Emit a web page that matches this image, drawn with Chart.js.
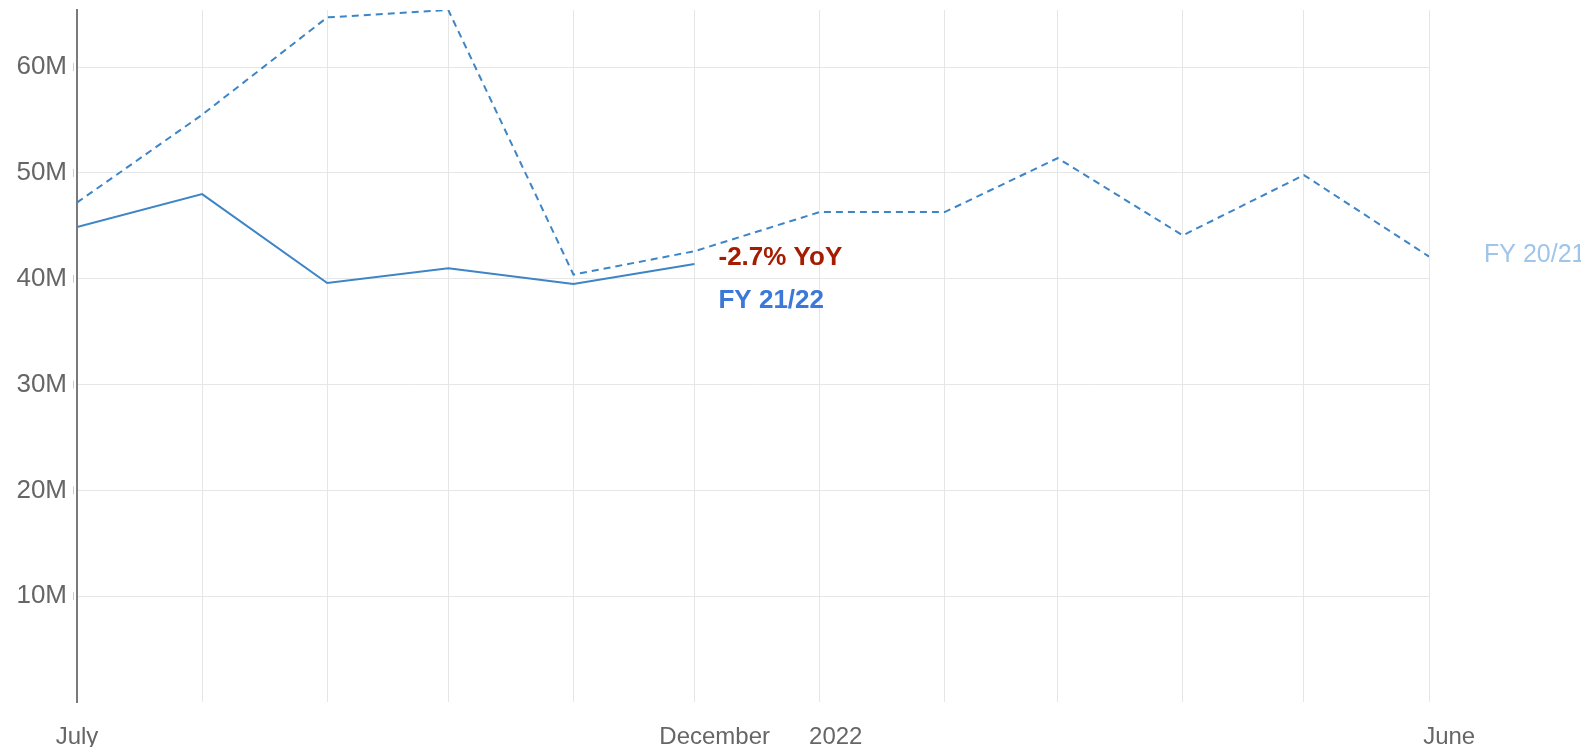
<!DOCTYPE html>
<html>
<head>
<meta charset="utf-8">
<style>
  html, body { margin: 0; padding: 0; background: #fff; }
  canvas { display: block; }
</style>
<script src="https://cdn.jsdelivr.net/npm/chart.js@4"></script>
</head>
<body>
<canvas id="chart" width="1581" height="747"></canvas>
<script>
// month starts of the fiscal year (July to June)
const months = ['2021-07-01', '2021-08-01', '2021-09-01', '2021-10-01', '2021-11-01', '2021-12-01',
                '2022-01-01', '2022-02-01', '2022-03-01', '2022-04-01', '2022-05-01', '2022-06-01'];

// values in millions
const fy2122 = [44.9, 48.0, 39.6, 41.0, 39.5, 41.4];
const fy2021 = [47.2, 55.5, 64.7, 65.4, 40.4, 42.6, 46.3, 46.3, 51.4, 44.1, 49.8, 42.1];

const yTicks = [10, 20, 30, 40, 50, 60];
const xLabels = [['2021-07-01', 'July'], ['2021-12-06', 'December'], ['2022-01-05', '2022'], ['2022-06-06', 'June']];

const yoyText = '-2.7% YoY';

const FONT = "Arial, 'Liberation Sans', sans-serif";
const lineColor = '#3d85c6';

function dayOf(d) {
    return (Date.parse(d) - Date.parse(months[0])) / 86400000;
}
const lastDay = dayOf(months[months.length - 1]);

// text next to the line ends
const endLabels = {
    id: 'endLabels',
    afterDatasetsDraw(chart) {
        const ctx = chart.ctx;
        const cur = chart.getDatasetMeta(0).data;
        const prev = chart.getDatasetMeta(1).data;
        const p = cur[cur.length - 1];
        const q = prev[prev.length - 1];
        ctx.save();
        ctx.textAlign = 'left';
        ctx.textBaseline = 'alphabetic';
        ctx.font = 'bold 26px ' + FONT;
        ctx.fillStyle = '#a61c00';
        ctx.fillText(yoyText, p.x + 24, p.y + 1);
        ctx.fillStyle = '#3c78d8';
        ctx.fillText('FY 21/22', p.x + 24, p.y + 44);
        ctx.font = '25px ' + FONT;
        ctx.fillStyle = '#9fc5e8';
        ctx.fillText('FY 20/21', q.x + 55, q.y + 5);
        ctx.restore();
    }
};

// little upright marks left of the y axis at each tick
const tickMarks = {
    id: 'tickMarks',
    afterDraw(chart) {
        const y = chart.scales.y;
        const ctx = chart.ctx;
        ctx.save();
        ctx.strokeStyle = '#cccccc';
        ctx.lineWidth = 1;
        ctx.beginPath();
        y.ticks.forEach(t => {
            const py = y.getPixelForValue(t.value);
            ctx.moveTo(y.right - 3.5, py - 4);
            ctx.lineTo(y.right - 3.5, py + 4);
        });
        ctx.stroke();
        ctx.restore();
    }
};

new Chart(document.getElementById('chart').getContext('2d'), {
    type: 'line',
    data: {
        datasets: [{
            label: 'FY 21/22',
            data: fy2122.map((v, i) => ({ x: dayOf(months[i]), y: v })),
            borderColor: lineColor,
            borderWidth: 2,
            pointRadius: 0,
            tension: 0
        }, {
            label: 'FY 20/21',
            data: fy2021.map((v, i) => ({ x: dayOf(months[i]), y: v })),
            borderColor: lineColor,
            borderWidth: 2,
            borderDash: [7, 5],
            pointRadius: 0,
            tension: 0
        }]
    },
    options: {
        responsive: false,
        animation: false,
        layout: { padding: { top: 10, right: 152, left: 0, bottom: 0 } },
        plugins: {
            legend: { display: false },
            tooltip: { enabled: false }
        },
        scales: {
            x: {
                type: 'linear',
                position: 'bottom',
                min: 0,
                max: lastDay,
                afterBuildTicks: s => { s.ticks = months.map(m => ({ value: dayOf(m) })); },
                afterFit: s => { s.height = 0; s.paddingLeft = 0; s.paddingRight = 0; },
                grid: { color: '#e6e6e6', lineWidth: 1, drawTicks: false },
                border: { display: false },
                ticks: { display: false }
            },
            x2: {
                type: 'linear',
                position: 'bottom',
                min: 0,
                max: lastDay,
                afterBuildTicks: s => { s.ticks = xLabels.map(l => ({ value: dayOf(l[0]) })); },
                afterFit: s => { s.height = 45; s.paddingLeft = 0; s.paddingRight = 0; },
                grid: { display: false, drawTicks: false },
                border: { display: false },
                ticks: {
                    autoSkip: false,
                    maxRotation: 0,
                    padding: 21,
                    color: '#666',
                    font: { family: FONT, size: 24 },
                    callback: (v, i) => xLabels[i] ? xLabels[i][1] : ''
                }
            },
            y: {
                min: 0,
                max: 65.4,
                afterBuildTicks: s => { s.ticks = yTicks.map(v => ({ value: v })); },
                afterFit: s => { s.width = 77; s.paddingTop = 0; s.paddingBottom = 0; },
                grid: { color: '#e6e6e6', lineWidth: 1, drawTicks: false },
                border: { display: true, color: '#7a7a7a', width: 2 },
                ticks: {
                    padding: 10,
                    color: '#666',
                    font: { family: FONT, size: 26 },
                    callback: v => v + 'M'
                }
            }
        }
    },
    plugins: [endLabels, tickMarks]
});
</script>
</body>
</html>
